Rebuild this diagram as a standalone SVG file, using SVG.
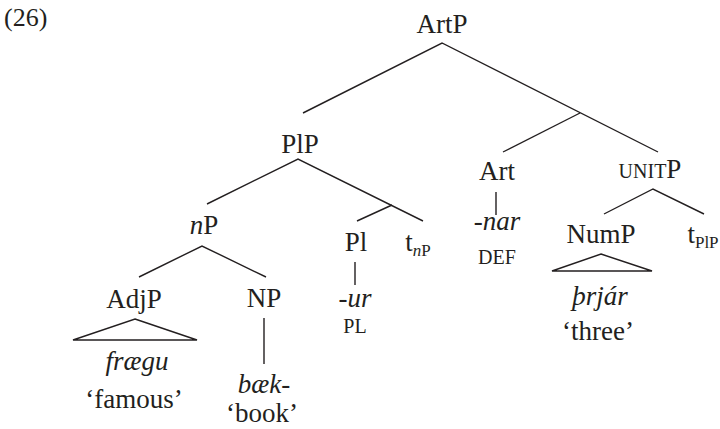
<svg xmlns="http://www.w3.org/2000/svg" width="720" height="429" viewBox="0 0 720 429">
  <style>
    text { font-family: "Liberation Serif", "DejaVu Serif", serif; fill: #231f20; text-anchor: middle; }
    .lab { font-size: 27px; }
    .gl { font-size: 27px; }
    .sc { font-size: 20px; }
    .sub { font-size: 17px; }
    .it { font-style: italic; }
    .edge { stroke: #231f20; stroke-width: 1.4; fill: none; }
  </style>
  <rect width="720" height="429" fill="#fff"/>
  <text x="4" y="26" style="font-size:26px;text-anchor:start">(26)</text>

  <!-- branches -->
  <g id="connectors">
    <polyline class="edge" points="303,113 442,43 658,152"/>
    <line class="edge" x1="580" y1="113" x2="503" y2="152"/>
    <polyline class="edge" points="207,204 298,159 423,221"/>
    <line class="edge" x1="392" y1="205" x2="357" y2="221"/>
    <polyline class="edge" points="139,277 202,246 266,277"/>
    <polyline class="edge" points="604,214 653,189 704,214"/>
    <line class="edge" x1="496" y1="192" x2="496" y2="215"/>
    <line class="edge" x1="355" y1="262" x2="355" y2="285"/>
    <line class="edge" x1="264" y1="318" x2="264" y2="364"/>
    <polygon class="edge" points="135,319 197,340 73,340"/>
    <polygon class="edge" points="601,254 652,271 552,271"/>
  </g>

  <g id="ArtP"><text class="lab" x="442" y="33">ArtP</text></g>
  <g id="PlP"><text class="lab" x="300" y="153">PlP</text></g>
  <g id="Art">
    <text class="lab" x="497" y="180">Art</text>
    <text class="gl it" x="497" y="230">-nar</text>
    <text class="sc" x="497" y="264">DEF</text>
  </g>
  <g id="UnitP"><text class="lab" x="650" y="178"><tspan class="sc">UNIT</tspan>P</text></g>
  <g id="nP"><text class="lab" x="204" y="234"><tspan class="it">n</tspan>P</text></g>
  <g id="Pl">
    <text class="lab" x="356" y="251">Pl</text>
    <text class="gl it" x="355" y="307">-ur</text>
    <text class="sc" x="355" y="333">PL</text>
  </g>
  <g id="t-nP"><text class="lab" x="418" y="251">t<tspan class="sub" dy="5"><tspan class="it">n</tspan>P</tspan></text></g>
  <g id="NumP">
    <text class="lab" x="601" y="243">NumP</text>
    <text class="gl it" x="600" y="305">þrjár</text>
    <text class="gl" x="598" y="340">‘three’</text>
  </g>
  <g id="t-PlP"><text class="lab" x="703" y="243">t<tspan class="sub" dy="5">PlP</tspan></text></g>
  <g id="AdjP">
    <text class="lab" x="134" y="308">AdjP</text>
    <text class="gl it" x="137" y="370">frægu</text>
    <text class="gl" x="134" y="408">‘famous’</text>
  </g>
  <g id="NP">
    <text class="lab" x="264" y="307">NP</text>
    <text class="gl it" x="264" y="393">bæk-</text>
    <text class="gl" x="262" y="422">‘book’</text>
  </g>
</svg>
